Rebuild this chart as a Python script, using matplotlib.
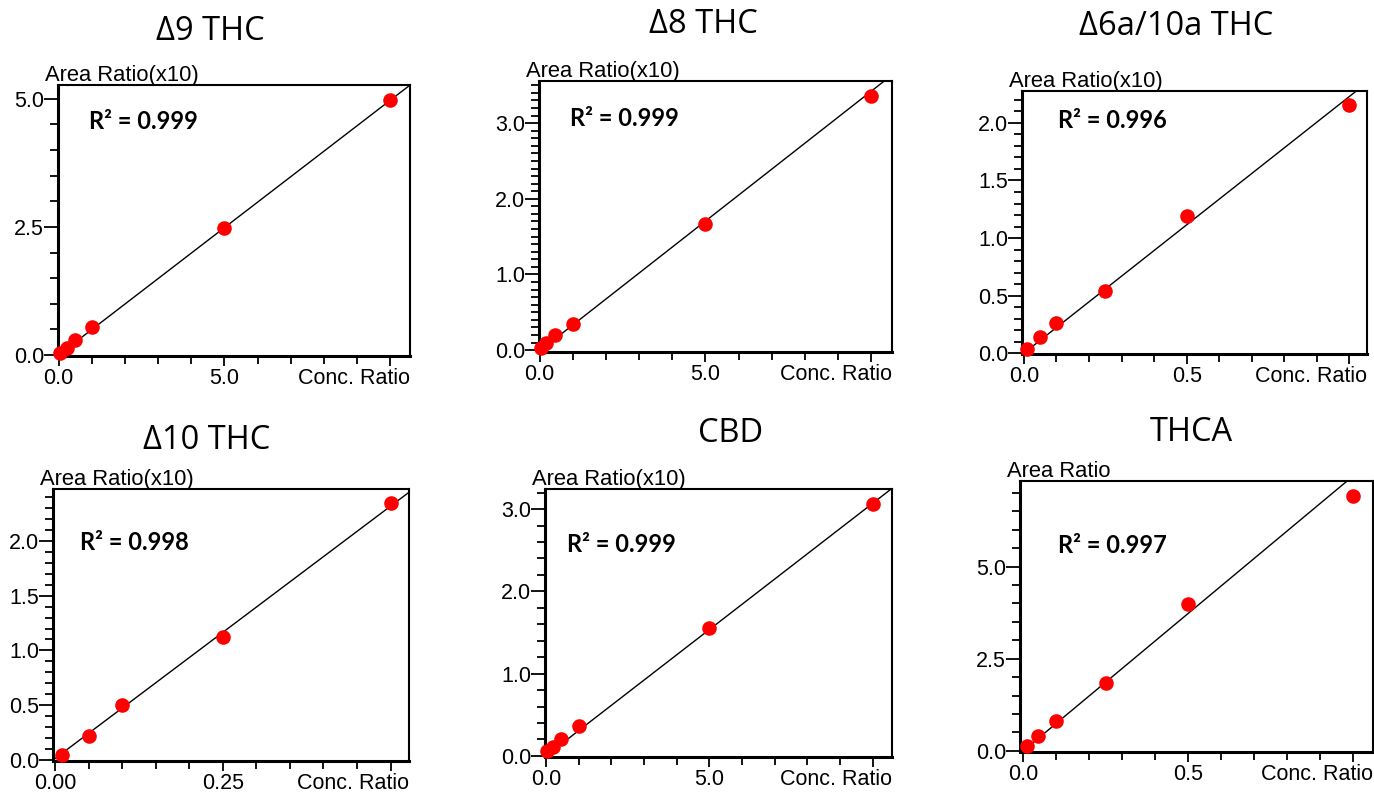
import numpy as np
import matplotlib
matplotlib.use("Agg")
import matplotlib.pyplot as plt
from matplotlib.ticker import MultipleLocator, FixedLocator

# calibration data
titles = ["\u03949 THC", "\u03948 THC", "\u03946a/10a THC", "\u039410 THC", "CBD", "THCA"]
ylabels = ["Area Ratio(x10)"] * 5 + ["Area Ratio"]
r2_values = ["0.999", "0.999", "0.996", "0.998", "0.999", "0.997"]

d9_x = [0.05, 0.25, 0.5, 1.0, 5.0, 10.0]
d9_y = [0.03, 0.14, 0.29, 0.54, 2.48, 4.98]
d8_x = [0.05, 0.2, 0.45, 1.0, 5.0, 10.0]
d8_y = [0.035, 0.09, 0.2, 0.35, 1.67, 3.36]
d6a_x = [0.01, 0.05, 0.1, 0.25, 0.5, 1.0]
d6a_y = [0.04, 0.14, 0.26, 0.54, 1.19, 2.16]
d10_x = [0.01, 0.05, 0.1, 0.25, 0.5]
d10_y = [0.04, 0.22, 0.50, 1.12, 2.35]
cbd_x = [0.02, 0.2, 0.45, 1.0, 5.0, 10.0]
cbd_y = [0.06, 0.11, 0.2, 0.36, 1.56, 3.06]
thca_x = [0.01, 0.045, 0.1, 0.25, 0.5, 1.0]
thca_y = [0.14, 0.41, 0.82, 1.85, 3.98, 6.9]

# fitted lines (slope, intercept)
fit_slope = [0.497, 0.343, 2.23, 4.62, 0.307, 7.45]
fit_icept = [0.0, -0.01, 0.0, 0.01, 0.0, 0.0]

xs = [d9_x, d8_x, d6a_x, d10_x, cbd_x, thca_x]
ys = [d9_y, d8_y, d6a_y, d10_y, cbd_y, thca_y]

# axis setup per panel
xlims = [(-0.02, 10.6), (-0.02, 10.62), (-0.005, 1.053), (-0.0025, 0.528), (-0.03, 10.6), (-0.01, 1.062)]
ylims = [(-0.02, 5.27), (-0.02, 3.56), (-0.01, 2.28), (-0.012, 2.48), (-0.01, 3.24), (-0.04, 7.32)]
xmajor = [[0, 5, 10], [0, 5, 10], [0, 0.5, 1.0], [0, 0.25, 0.5], [0, 5, 10], [0, 0.5, 1.0]]
xlabels = [["0.0", "5.0", ""], ["0.0", "5.0", ""], ["0.0", "0.5", ""],
           ["0.00", "0.25", ""], ["0.0", "5.0", ""], ["0.0", "0.5", ""]]
xminor = [1.0, 1.0, 0.1, 0.05, 1.0, 0.1]
ymajor = [2.5, 1.0, 0.5, 0.5, 1.0, 2.5]
yminor = [0.5, 0.1, 0.1, 0.1, 0.2, 0.5]

# layout in pixels of a 1374x795 picture: left, top, right, bottom
W, H = 1374, 795
boxes = [(58, 85, 410, 356), (539, 80.7, 891.7, 351.7), (1022.3, 90.7, 1366.7, 354.3),
         (53.3, 488.7, 409.3, 761), (545, 489.3, 892.3, 756.7), (1020, 481, 1373.3, 752.3)]
title_pos = [(210, 40), (703, 33), (1176, 35), (207, 449), (731, 442), (1191, 441)]
r2_pos = [(0.088, 0.838), (0.088, 0.833), (0.105, 0.857), (0.075, 0.776), (0.064, 0.767), (0.108, 0.736)]

fig = plt.figure(figsize=(W / 100, H / 100), dpi=100)
tick_font = "Liberation Sans"

for i in range(6):
    l, t, r, b = boxes[i]
    ax = fig.add_axes([l / W, 1 - b / H, (r - l) / W, (b - t) / H])
    ax.set_xlim(*xlims[i])
    ax.set_ylim(*ylims[i])

    lx = np.array([0, xlims[i][1]])
    ax.plot(lx, fit_slope[i] * lx + fit_icept[i], color="black", lw=1.0, zorder=2)
    ax.plot(xs[i], ys[i], "o", color="#ff0000", ms=10.5, mec="none", zorder=3, clip_on=False)

    ax.xaxis.set_major_locator(FixedLocator(xmajor[i]))
    ax.set_xticklabels(xlabels[i])
    ax.xaxis.set_minor_locator(MultipleLocator(xminor[i]))
    ax.yaxis.set_major_locator(MultipleLocator(ymajor[i]))
    ax.yaxis.set_major_formatter(matplotlib.ticker.FormatStrFormatter("%.1f"))
    ax.yaxis.set_minor_locator(MultipleLocator(yminor[i]))

    ax.tick_params(axis="x", which="major", length=7, width=1.3, pad=1.5, labelsize=15.5)
    ax.tick_params(axis="x", which="minor", length=5.5, width=1.3)
    ax.tick_params(axis="y", which="major", length=10, width=1.3, pad=0, labelsize=15.5)
    ax.tick_params(axis="y", which="minor", length=6, width=1.3)
    for lab in ax.get_xticklabels() + ax.get_yticklabels():
        lab.set_fontfamily(tick_font)

    for side in ["left", "bottom"]:
        ax.spines[side].set_linewidth(2.2)
    for side in ["top", "right"]:
        ax.spines[side].set_linewidth(1.5)

    ax.annotate(ylabels[i], xy=(0, 1), xycoords="axes fraction", xytext=(-13, 4),
                textcoords="offset pixels", ha="left", va="baseline",
                fontsize=15.8, family=tick_font)
    ax.annotate("Conc. Ratio", xy=(1, 0), xycoords="axes fraction", xytext=(0, -28),
                textcoords="offset pixels", ha="right", va="baseline",
                fontsize=15.5, family=tick_font)

    ax.text(r2_pos[i][0], r2_pos[i][1], "R\u00b2 = " + r2_values[i], transform=ax.transAxes,
            ha="left", va="baseline", fontsize=17, fontweight="bold", family="Lato")

    tx, ty = title_pos[i]
    fig.text(tx / W, 1 - ty / H, titles[i], ha="center", va="baseline",
             fontsize=23.5, family="Open Sans")

fig.savefig("out.png", dpi=100)
